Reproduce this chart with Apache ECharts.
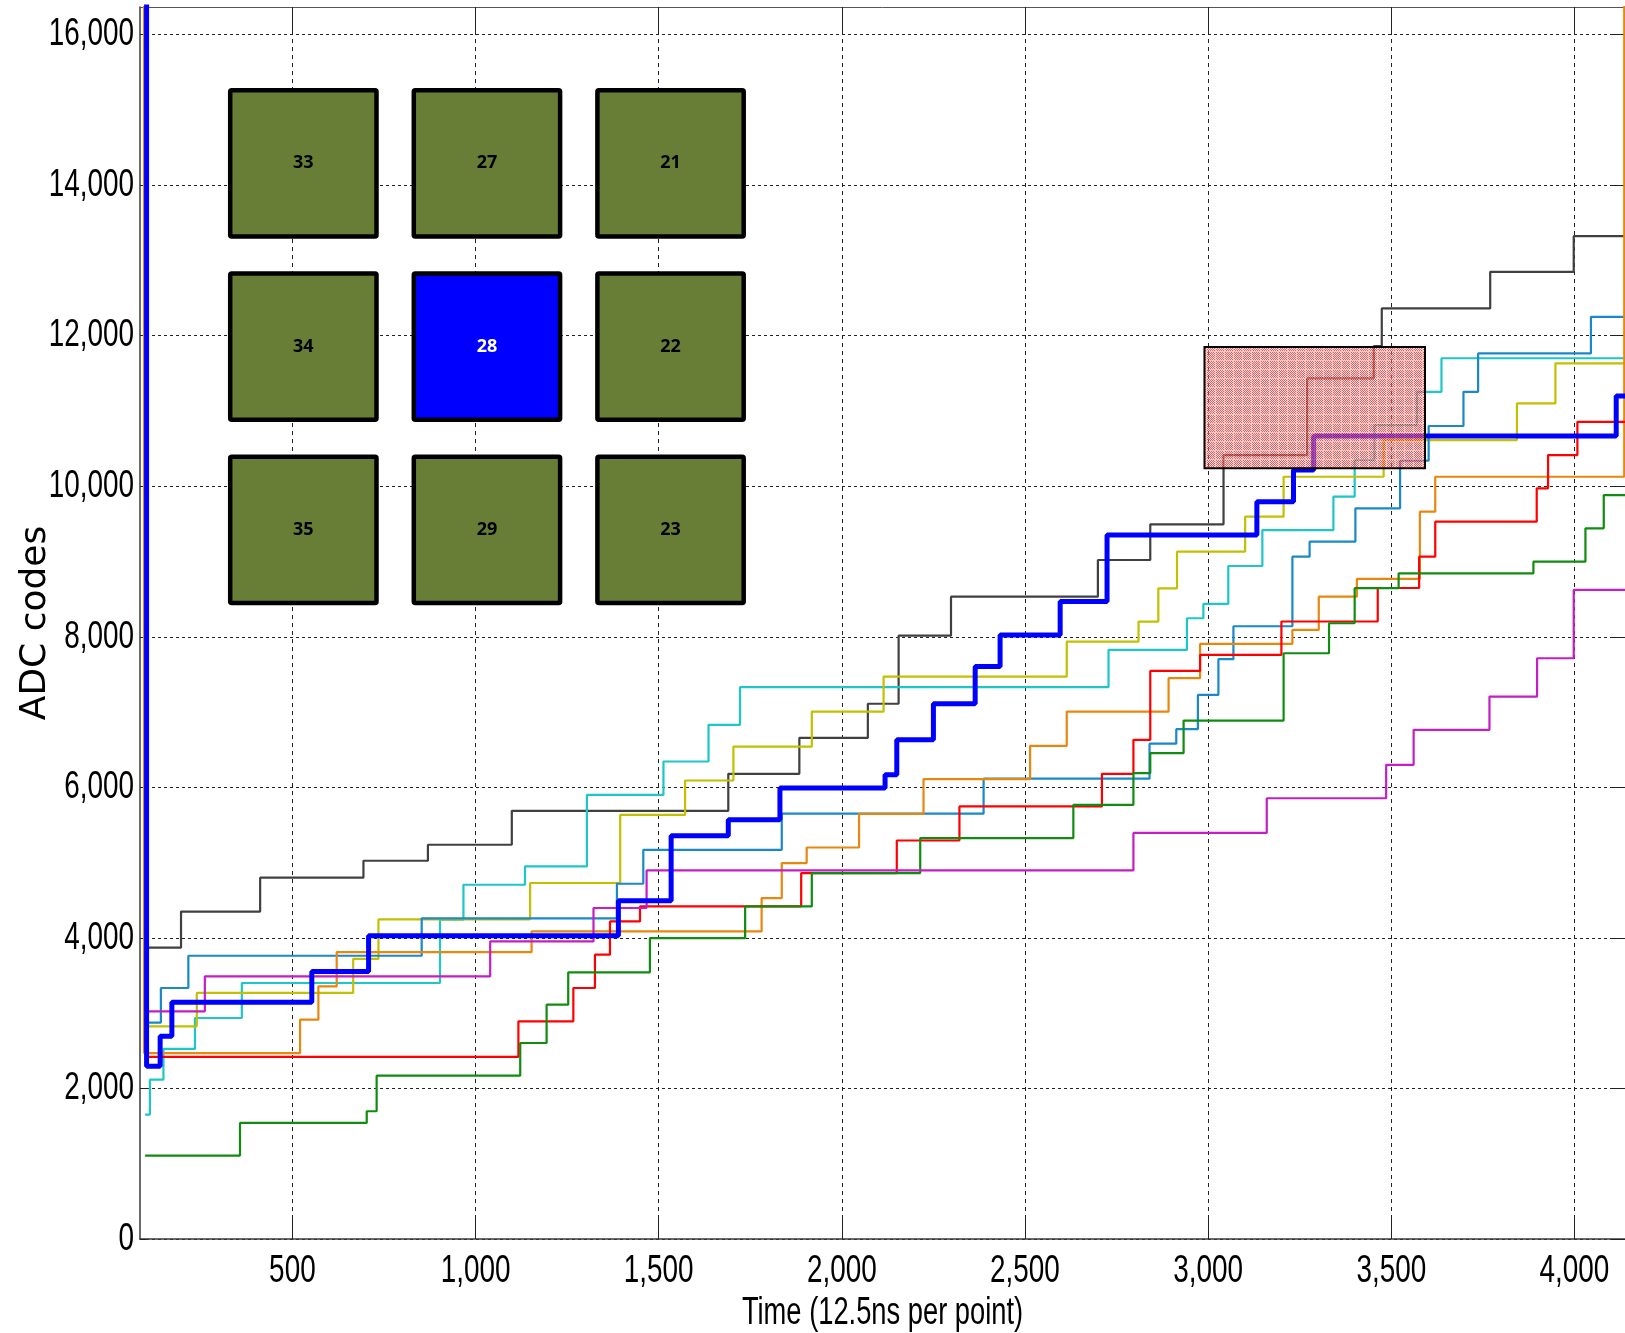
<!DOCTYPE html>
<html>
<head>
<meta charset="utf-8">
<title>ADC codes vs time</title>
<script src="https://cdn.jsdelivr.net/npm/echarts@6/dist/echarts.min.js"></script>
<style>
  html, body { margin: 0; padding: 0; background: #ffffff; overflow: hidden; }
  #chart { width: 1625px; height: 1333px; }
</style>
</head>
<body>
<div id="chart"></div>
<script>
// Axis ranges and tick positions
const X_MIN = 84;
const X_MAX = 4138;
const Y_MIN = 0;
const Y_MAX = 16366;
const xTicks = [500, 1000, 1500, 2000, 2500, 3000, 3500, 4000];
const yTicks = [0, 2000, 4000, 6000, 8000, 10000, 12000, 14000, 16000];
const xTitle = 'Time (12.5ns per point)';
const yTitle = 'ADC codes';

// Each trace: [sample index, ADC code] at every level change (staircase signals)
const grayTrace = [[98,3870],[196,4350],[412,4800],[694,5025],[870,5237],[1099,5688],[1690,6180],[1884,6657],[2071,7110],[2155,8015],[2298,8533],[2699,9020],[2842,9494],[3042,10414],[3270,11432],[3452,11860],[3474,12362],[3770,12848],[3998,13322],[4138,13322]];
const cyanTrace = [[98,1653],[111,2117],[148,2525],[234,2936],[362,3401],[903,4241],[967,4706],[1135,4949],[1304,5901],[1513,6343],[1636,6830],[1722,7330],[2728,7825],[2942,8246],[2987,8436],[3055,8940],[3148,9418],[3342,9861],[3400,10348],[3454,10812],[3570,11254],[3637,11700],[4138,11700]];
const yellowTrace = [[98,2825],[239,3270],[666,3720],[735,4245],[1149,4729],[1395,5635],[1572,6091],[1704,6542],[1918,7007],[2114,7471],[2614,7936],[2810,8202],[2864,8644],[2915,9131],[3101,9595],[3206,10126],[3479,10613],[3843,11100],[3948,11632],[4138,11632]];
const steelTrace = [[98,2874],[141,3334],[216,3763],[853,4260],[1386,4719],[1458,5170],[1836,5650],[2387,6115],[2840,6580],[2913,6773],[2972,7228],[3028,7702],[3069,8140],[3230,9064],[3277,9263],[3402,9706],[3524,10340],[3602,10800],[3697,11254],[3737,11764],[4045,12250],[4138,12250]];
const orangeTrace = [[84,17000],[95,2470],[521,2914],[571,3356],[621,3810],[1153,4086],[1781,4529],[1836,4994],[1904,5201],[2047,5648],[2223,6109],[2514,6551],[2614,7007],[2892,7450],[2978,7905],[3230,8091],[3302,8533],[3406,8768],[3578,9662],[3620,10126],[4136,17000],[4138,17000]];
const redTrace = [[98,2420],[1117,2891],[1267,3334],[1326,3777],[1367,4219],[1449,4418],[1889,4861],[2150,5294],[2321,5746],[2710,6180],[2796,6631],[2842,7547],[2978,7759],[3200,8203],[3463,8648],[3576,9064],[3620,9529],[3897,9972],[3928,10414],[4008,10856],[4138,10856]];
const greenTrace = [[98,1108],[357,1542],[703,1697],[730,2170],[1122,2604],[1194,3113],[1253,3542],[1476,3998],[1736,4418],[1918,4861],[2214,5326],[2632,5768],[2796,6189],[2842,6454],[2933,6887],[3206,7781],[3330,8180],[3400,8645],[3520,8843],[3888,8998],[4030,9441],[4080,9883],[4138,9883]];
const magentaTrace = [[98,3024],[261,3489],[1040,3953],[1322,4397],[1467,4896],[2796,5395],[3160,5855],[3486,6299],[3561,6764],[3768,7206],[3898,7715],[3998,8622],[4138,8622]];
const blueTrace = [[84,17000],[102,2294],[139,2692],[171,3144],[553,3555],[708,4029],[1390,4494],[1534,5356],[1690,5569],[1831,5990],[2118,6166],[2150,6631],[2250,7109],[2364,7604],[2432,8025],[2596,8467],[2724,9352],[3133,9794],[3233,10215],[3288,10666],[4114,11200],[4138,11200]];

// Highlighted window (sample range and code range)
const windowX = [2990, 3592];
const windowY = [10240, 11850];

// Pad map shown as an inset
const padRows = [['33', '27', '21'], ['34', '28', '22'], ['35', '29', '23']];
const centralPad = '28';

const LABEL_FONT = "'Liberation Sans', Arial, sans-serif";
const LABEL_SIZE = 39;
const LABEL_SQUEEZE = 0.715;   // condensed look for axis text
const fmt = v => Number(v).toLocaleString('en-US');

// Translucent red checker texture for the highlighted window
const hatch = document.createElement('canvas');
hatch.width = 9; hatch.height = 9;
(function () {
  const c = hatch.getContext('2d');
  for (let i = 0; i < 9; i++) {
    for (let j = 0; j < 9; j++) {
      if (i === 0 || j === 0) {
        c.fillStyle = 'rgba(255,150,150,0.55)';
      } else if ((i + j) % 2 === 0 || (i % 2 === 1 && j % 2 === 1)) {
        c.fillStyle = 'rgba(245,20,20,0.72)';
      } else {
        c.fillStyle = 'rgba(255,205,205,0.5)';
      }
      c.fillRect(i, j, 1, 1);
    }
  }
})();

function trace(name, data, color, width, extra) {
  return Object.assign({
    name: name,
    type: 'line',
    data: data,
    step: 'end',
    showSymbol: false,
    symbol: 'none',
    clip: true,
    lineStyle: { color: color, width: width },
    itemStyle: { color: color },
    z: 2
  }, extra || {});
}

// Inset pad squares
const PAD_LEFT = 230.2, PAD_TOP = 90.2, PAD_STEP_X = 183.6, PAD_STEP_Y = 183.3, PAD_SIZE = 146.3;
const insetElements = [];
padRows.forEach((row, r) => {
  row.forEach((label, c) => {
    const x = PAD_LEFT + c * PAD_STEP_X;
    const y = PAD_TOP + r * PAD_STEP_Y;
    const isCentral = label === centralPad;
    insetElements.push({
      type: 'rect',
      shape: { x: x, y: y, width: PAD_SIZE, height: PAD_SIZE, r: 1.5 },
      style: { fill: isCentral ? '#0000ff' : '#687e36', stroke: '#000000', lineWidth: 4.5 },
      z: 20
    });
    insetElements.push({
      type: 'text',
      x: x + PAD_SIZE / 2,
      y: y + PAD_SIZE / 2,
      style: {
        text: label,
        fill: isCentral ? '#ffffff' : '#000000',
        font: 'bold 18px "Open Sans", "Noto Sans", sans-serif',
        textAlign: 'center',
        textVerticalAlign: 'middle'
      },
      z: 21
    });
  });
});

const chart = echarts.init(document.getElementById('chart'), null, { renderer: 'canvas' });
chart.setOption({
  animation: false,
  backgroundColor: '#ffffff',
  grid: { left: 140, right: 0, top: 7, bottom: 94, outerBoundsMode: 'none', containLabel: false },
  xAxis: [
    {
      type: 'value', min: X_MIN, max: X_MAX, position: 'bottom',
      axisLine: { show: true, onZero: false, lineStyle: { color: '#3a3a3a', width: 1.5 } },
      axisTick: { show: true, inside: true, length: 23, customValues: xTicks, lineStyle: { color: '#222222', width: 1 } },
      axisLabel: { show: false, customValues: xTicks },
      splitLine: { show: true, lineStyle: { color: '#222222', width: 1, type: [4, 4] } }
    },
    {
      type: 'value', min: X_MIN, max: X_MAX, position: 'top',
      axisLine: { show: true, onZero: false, lineStyle: { color: '#555555', width: 1 } },
      axisTick: { show: true, inside: true, length: 25, customValues: xTicks, lineStyle: { color: '#222222', width: 1 } },
      axisLabel: { show: false },
      splitLine: { show: false }
    }
  ],
  yAxis: [
    {
      type: 'value', min: Y_MIN, max: Y_MAX, position: 'left',
      axisLine: { show: true, onZero: false, lineStyle: { color: '#3a3a3a', width: 1.5 } },
      axisTick: { show: true, inside: true, length: 6, customValues: yTicks, lineStyle: { color: '#222222', width: 1 } },
      axisLabel: { show: false, customValues: yTicks },
      splitLine: { show: true, lineStyle: { color: '#222222', width: 1, type: [3, 3] } },
      name: yTitle, nameLocation: 'middle', nameGap: 86, nameRotate: 90,
      nameTextStyle: { fontFamily: "'DejaVu Sans', sans-serif", fontSize: 36, color: '#000000' }
    },
    {
      type: 'value', min: Y_MIN, max: Y_MAX, position: 'right',
      axisLine: { show: true, onZero: false, lineStyle: { color: '#555555', width: 1 } },
      axisTick: { show: true, inside: true, length: 14, customValues: yTicks, lineStyle: { color: '#222222', width: 1 } },
      axisLabel: { show: false },
      splitLine: { show: false }
    }
  ],
  series: [
    trace('gray', grayTrace, '#404040', 2.2),
    trace('cyan', cyanTrace, '#1ec6c8', 2.2),
    trace('yellow', yellowTrace, '#c2c000', 2.2),
    trace('steelblue', steelTrace, '#1a88c9', 2.2),
    trace('orange', orangeTrace, '#e8870e', 2.2),
    trace('red', redTrace, '#ff0000', 2.2),
    trace('green', greenTrace, '#108c10', 2.2),
    trace('magenta', magentaTrace, '#c41ec4', 2.2),
    trace('blue', blueTrace, '#0000ff', 5, {
      z: 3,
      markArea: {
        silent: true,
        z: 10,
        label: { show: false },
        itemStyle: {
          color: { image: hatch, repeat: 'repeat' },
          borderColor: '#000000',
          borderWidth: 2
        },
        data: [[{ coord: [windowX[0], windowY[1]] }, { coord: [windowX[1], windowY[0]] }]]
      }
    })
  ],
  graphic: { elements: insetElements }
});

// Condensed tick labels and axis title, positioned through the axis scales
function axisText(text, x, y, align, vAlign, squeeze) {
  return {
    type: 'text',
    x: x, y: y,
    scaleX: squeeze,
    style: {
      text: text,
      fill: '#000000',
      font: LABEL_SIZE + 'px ' + LABEL_FONT,
      textAlign: align,
      textVerticalAlign: vAlign
    },
    z: 30
  };
}
const gridRect = chart.getModel().getComponent('grid', 0).coordinateSystem.getRect();
const bottomY = gridRect.y + gridRect.height;
const labelEls = [];
xTicks.forEach(v => {
  const px = chart.convertToPixel({ xAxisIndex: 0 }, v);
  labelEls.push(axisText(fmt(v), px, bottomY + 32, 'center', 'middle', LABEL_SQUEEZE));
});
yTicks.forEach(v => {
  const py = chart.convertToPixel({ yAxisIndex: 0 }, v);
  labelEls.push(axisText(fmt(v), gridRect.x - 6, py, 'right', 'middle', LABEL_SQUEEZE));
});
labelEls.push(axisText(xTitle, gridRect.x + gridRect.width / 2, bottomY + 74, 'center', 'middle', 0.70));
chart.setOption({ graphic: { elements: insetElements.concat(labelEls) } });
</script>
</body>
</html>
